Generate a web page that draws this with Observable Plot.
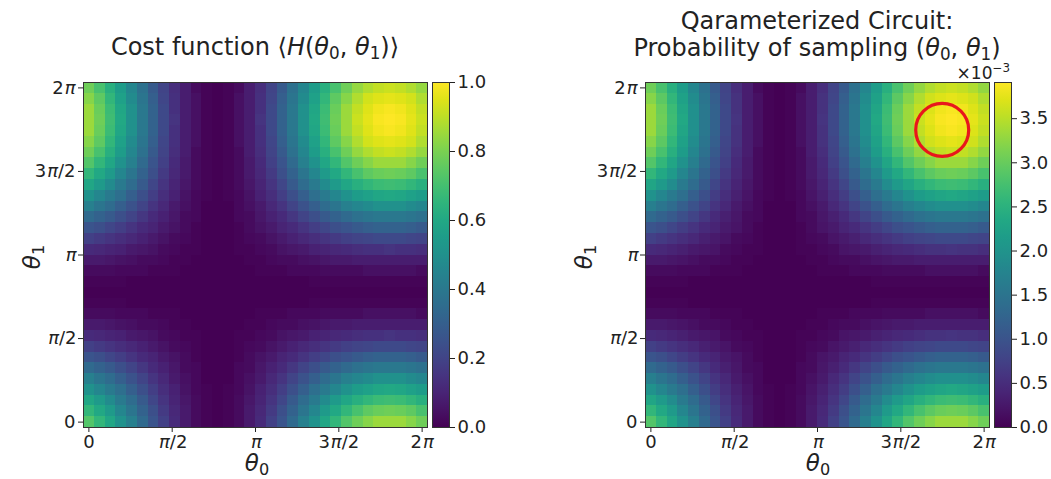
<!DOCTYPE html>
<html><head><meta charset="utf-8">
<script src="https://cdn.jsdelivr.net/npm/d3@7"></script>
<script src="https://cdn.jsdelivr.net/npm/@observablehq/plot@0.6"></script>
<style>
html,body{margin:0;padding:0;background:#fff;}
#fig{position:relative;width:1051px;height:479px;overflow:hidden;font-family:"DejaVu Sans",sans-serif;color:#222;}
.t{position:absolute;white-space:nowrap;font-size:24px;line-height:28px;text-align:center;transform:translateX(-50%);}
.lab{position:absolute;white-space:nowrap;font-size:23px;line-height:23px;}
sub{font-size:70%;vertical-align:baseline;position:relative;top:0.22em;line-height:0;}
sup{font-size:70%;vertical-align:baseline;position:relative;top:-0.55em;line-height:0;}
i{font-style:italic;}
</style></head>
<body><div id="fig"></div>
<script>
// Tick labels (shared by both axes of both heatmaps)
const tickLabels = ["0", "π/2", "π", "3π/2", "2π"];

// Cost function <H(θ0,θ1)>, in percent. Row j = θ1 index (0 = bottom), column i = θ0 index.
const costRows = [
[73,66,59,51,43,34,26,19,12,7,3,1,0,1,3,7,12,19,26,34,43,51,59,66,73,78,82,85,85,85,82,78],
[66,60,54,46,39,31,24,17,11,7,3,1,0,1,3,7,11,17,24,31,39,46,54,60,66,71,75,77,78,77,75,71],
[59,54,48,41,35,28,21,15,10,6,3,1,0,1,3,6,10,15,21,28,35,41,48,54,59,63,66,68,69,68,66,63],
[51,46,41,36,30,24,18,13,9,5,2,1,0,1,2,5,9,13,18,24,30,36,41,46,51,55,57,59,60,59,57,55],
[43,39,35,30,25,20,15,11,7,4,2,0,0,0,2,4,7,11,15,20,25,30,35,39,43,46,48,50,50,50,48,46],
[34,31,28,24,20,16,12,9,6,3,2,0,0,0,2,3,6,9,12,16,20,24,28,31,34,37,39,40,40,40,39,37],
[26,24,21,18,15,12,10,7,5,3,1,0,0,0,1,3,5,7,10,12,15,18,21,24,26,28,30,31,31,31,30,28],
[19,17,15,13,11,9,7,5,3,2,1,0,0,0,1,2,3,5,7,9,11,13,15,17,19,20,21,22,22,22,21,20],
[12,11,10,9,7,6,5,3,2,1,1,0,0,0,1,1,2,3,5,6,7,9,10,11,12,13,14,14,15,14,14,13],
[7,7,6,5,4,3,3,2,1,1,0,0,0,0,0,1,1,2,3,3,4,5,6,7,7,8,8,8,8,8,8,8],
[3,3,3,2,2,2,1,1,1,0,0,0,0,0,0,0,1,1,1,2,2,2,3,3,3,3,4,4,4,4,4,3],
[1,1,1,1,0,0,0,0,0,0,0,0,0,0,0,0,0,0,0,0,0,1,1,1,1,1,1,1,1,1,1,1],
[0,0,0,0,0,0,0,0,0,0,0,0,0,0,0,0,0,0,0,0,0,0,0,0,0,0,0,0,0,0,0,0],
[1,1,1,1,0,0,0,0,0,0,0,0,0,0,0,0,0,0,0,0,0,1,1,1,1,1,1,1,1,1,1,1],
[3,3,3,2,2,2,1,1,1,0,0,0,0,0,0,0,1,1,1,2,2,2,3,3,3,3,4,4,4,4,4,3],
[7,7,6,5,4,3,3,2,1,1,0,0,0,0,0,1,1,2,3,3,4,5,6,7,7,8,8,8,8,8,8,8],
[12,11,10,9,7,6,5,3,2,1,1,0,0,0,1,1,2,3,5,6,7,9,10,11,12,13,14,14,15,14,14,13],
[19,17,15,13,11,9,7,5,3,2,1,0,0,0,1,2,3,5,7,9,11,13,15,17,19,20,21,22,22,22,21,20],
[26,24,21,18,15,12,10,7,5,3,1,0,0,0,1,3,5,7,10,12,15,18,21,24,26,28,30,31,31,31,30,28],
[34,31,28,24,20,16,12,9,6,3,2,0,0,0,2,3,6,9,12,16,20,24,28,31,34,37,39,40,40,40,39,37],
[43,39,35,30,25,20,15,11,7,4,2,0,0,0,2,4,7,11,15,20,25,30,35,39,43,46,48,50,50,50,48,46],
[51,46,41,36,30,24,18,13,9,5,2,1,0,1,2,5,9,13,18,24,30,36,41,46,51,55,57,59,60,59,57,55],
[59,54,48,41,35,28,21,15,10,6,3,1,0,1,3,6,10,15,21,28,35,41,48,54,59,63,66,68,69,68,66,63],
[66,60,54,46,39,31,24,17,11,7,3,1,0,1,3,7,11,17,24,31,39,46,54,60,66,71,75,77,78,77,75,71],
[73,66,59,51,43,34,26,19,12,7,3,1,0,1,3,7,12,19,26,34,43,51,59,66,73,78,82,85,85,85,82,78],
[78,71,63,55,46,37,28,20,13,8,3,1,0,1,3,8,13,20,28,37,46,55,63,71,78,84,88,91,92,91,88,84],
[82,75,66,57,48,39,30,21,14,8,4,1,0,1,4,8,14,21,30,39,48,57,66,75,82,88,93,95,96,95,93,88],
[85,77,68,59,50,40,31,22,14,8,4,1,0,1,4,8,14,22,31,40,50,59,68,77,85,91,95,98,99,98,95,91],
[85,78,69,60,50,40,31,22,15,8,4,1,0,1,4,8,15,22,31,40,50,60,69,78,85,92,96,99,100,99,96,92],
[85,77,68,59,50,40,31,22,14,8,4,1,0,1,4,8,14,22,31,40,50,59,68,77,85,91,95,98,99,98,95,91],
[82,75,66,57,48,39,30,21,14,8,4,1,0,1,4,8,14,21,30,39,48,57,66,75,82,88,93,95,96,95,93,88],
[78,71,63,55,46,37,28,20,13,8,3,1,0,1,3,8,13,20,28,37,46,55,63,71,78,84,88,91,92,91,88,84]
];

// Probability of sampling (θ0,θ1), in units of 1e-5. Same layout.
const probRows = [
[285,258,230,199,168,133,102,74,47,27,12,4,0,4,12,27,47,74,102,133,168,199,230,258,285,305,320,332,332,332,320,305],
[258,234,211,180,152,121,94,66,43,27,12,4,0,4,12,27,43,66,94,121,152,180,211,234,258,277,293,301,305,301,293,277],
[230,211,188,160,137,109,82,59,39,23,12,4,0,4,12,23,39,59,82,109,137,160,188,211,230,246,258,266,270,266,258,246],
[199,180,160,141,117,94,70,51,35,20,8,4,0,4,8,20,35,51,70,94,117,141,160,180,199,215,223,230,234,230,223,215],
[168,152,137,117,98,78,59,43,27,16,8,0,0,0,8,16,27,43,59,78,98,117,137,152,168,180,188,195,195,195,188,180],
[133,121,109,94,78,62,47,35,23,12,8,0,0,0,8,12,23,35,47,62,78,94,109,121,133,145,152,156,156,156,152,145],
[102,94,82,70,59,47,39,27,20,12,4,0,0,0,4,12,20,27,39,47,59,70,82,94,102,109,117,121,121,121,117,109],
[74,66,59,51,43,35,27,20,12,8,4,0,0,0,4,8,12,20,27,35,43,51,59,66,74,78,82,86,86,86,82,78],
[47,43,39,35,27,23,20,12,8,4,4,0,0,0,4,4,8,12,20,23,27,35,39,43,47,51,55,55,59,55,55,51],
[27,27,23,20,16,12,12,8,4,4,0,0,0,0,0,4,4,8,12,12,16,20,23,27,27,31,31,31,31,31,31,31],
[12,12,12,8,8,8,4,4,4,0,0,0,0,0,0,0,4,4,4,8,8,8,12,12,12,12,16,16,16,16,16,12],
[4,4,4,4,0,0,0,0,0,0,0,0,0,0,0,0,0,0,0,0,0,4,4,4,4,4,4,4,4,4,4,4],
[0,0,0,0,0,0,0,0,0,0,0,0,0,0,0,0,0,0,0,0,0,0,0,0,0,0,0,0,0,0,0,0],
[4,4,4,4,0,0,0,0,0,0,0,0,0,0,0,0,0,0,0,0,0,4,4,4,4,4,4,4,4,4,4,4],
[12,12,12,8,8,8,4,4,4,0,0,0,0,0,0,0,4,4,4,8,8,8,12,12,12,12,16,16,16,16,16,12],
[27,27,23,20,16,12,12,8,4,4,0,0,0,0,0,4,4,8,12,12,16,20,23,27,27,31,31,31,31,31,31,31],
[47,43,39,35,27,23,20,12,8,4,4,0,0,0,4,4,8,12,20,23,27,35,39,43,47,51,55,55,59,55,55,51],
[74,66,59,51,43,35,27,20,12,8,4,0,0,0,4,8,12,20,27,35,43,51,59,66,74,78,82,86,86,86,82,78],
[102,94,82,70,59,47,39,27,20,12,4,0,0,0,4,12,20,27,39,47,59,70,82,94,102,109,117,121,121,121,117,109],
[133,121,109,94,78,62,47,35,23,12,8,0,0,0,8,12,23,35,47,62,78,94,109,121,133,145,152,156,156,156,152,145],
[168,152,137,117,98,78,59,43,27,16,8,0,0,0,8,16,27,43,59,78,98,117,137,152,168,180,188,195,195,195,188,180],
[199,180,160,141,117,94,70,51,35,20,8,4,0,4,8,20,35,51,70,94,117,141,160,180,199,215,223,230,234,230,223,215],
[230,211,188,160,137,109,82,59,39,23,12,4,0,4,12,23,39,59,82,109,137,160,188,211,230,246,258,266,270,266,258,246],
[258,234,211,180,152,121,94,66,43,27,12,4,0,4,12,27,43,66,94,121,152,180,211,234,258,277,293,301,305,301,293,277],
[285,258,230,199,168,133,102,74,47,27,12,4,0,4,12,27,47,74,102,133,168,199,230,258,285,305,320,332,332,332,320,305],
[305,277,246,215,180,145,109,78,51,31,12,4,0,4,12,31,51,78,109,145,180,215,246,277,305,328,344,355,359,355,344,328],
[320,293,258,223,188,152,117,82,55,31,16,4,0,4,16,31,55,82,117,152,188,223,258,293,320,344,363,371,375,371,363,344],
[332,301,266,230,195,156,121,86,55,31,16,4,0,4,16,31,55,86,121,156,195,230,266,301,332,355,371,383,387,383,371,355],
[332,305,270,234,195,156,121,86,59,31,16,4,0,4,16,31,59,86,121,156,195,234,270,305,332,359,375,387,391,387,375,359],
[332,301,266,230,195,156,121,86,55,31,16,4,0,4,16,31,55,86,121,156,195,230,266,301,332,355,371,383,387,383,371,355],
[320,293,258,223,188,152,117,82,55,31,16,4,0,4,16,31,55,82,117,152,188,223,258,293,320,344,363,371,375,371,363,344],
[305,277,246,215,180,145,109,78,51,31,12,4,0,4,12,31,51,78,109,145,180,215,246,277,305,328,344,355,359,355,344,328]
];

// Marked optimum (red circle), in grid-index units
const optimum = [{theta0: 27.1, theta1: 27.1}];

// colour bar ticks
const costTicks = [0, 0.2, 0.4, 0.6, 0.8, 1.0];
const probTicks = [0, 0.5, 1.0, 1.5, 2.0, 2.5, 3.0, 3.5];

const N = costRows.length;
const tickPos = tickLabels.map((_, k) => k * (N - 1) / (tickLabels.length - 1));
const fmtTick = d => tickLabels[tickPos.indexOf(d)];

function toCells(rows, unit) {
  const out = [];
  rows.forEach((row, j) => row.forEach((v, i) => out.push({i, j, v: v * unit})));
  return out;
}
const costCells = toCells(costRows, 0.01);   // fraction
const probCells = toCells(probRows, 0.01);   // ×10^-3
const costMax = d3.max(costCells, d => d.v);
const probMax = d3.max(probCells, d => d.v);

const ns = "http://www.w3.org/2000/svg";
const baseStyle = {fontFamily: "DejaVu Sans", fontSize: "18px", color: "#222", background: "none", overflow: "visible"};

function italicPi(svg) {
  svg.querySelectorAll("text").forEach(t => {
    const s = t.textContent;
    if (!s.includes("π")) return;
    t.textContent = "";
    s.split(/(π)/).forEach(part => {
      if (!part) return;
      const ts = document.createElementNS(ns, "tspan");
      if (part === "π") { ts.setAttribute("font-style", "italic"); ts.setAttribute("dx", "1"); }
      ts.textContent = part;
      t.appendChild(ts);
    });
  });
}

function heatmap(cells, max, extra, marginLeft) {
  const svg = Plot.plot({
    width: marginLeft + 344 + 3, height: 417,
    marginLeft, marginRight: 3, marginTop: 20, marginBottom: 52,
    style: baseStyle,
    x: {domain: [-0.5, N - 0.5], ticks: tickPos, tickFormat: fmtTick, tickSize: 5, tickPadding: 3, label: null},
    y: {domain: [-0.5, N - 0.5], ticks: tickPos, tickFormat: fmtTick, tickSize: 5, tickPadding: 3, label: null},
    color: {type: "linear", scheme: "viridis", domain: [0, max]},
    marks: [
      Plot.rect(cells, {x1: d => d.i - 0.5, x2: d => d.i + 0.5, y1: d => d.j - 0.5, y2: d => d.j + 0.5, fill: "v", shapeRendering: "crispEdges"}),
      Plot.frame({stroke: "#333", strokeWidth: 1}),
      ...extra
    ]
  });
  italicPi(svg);
  return svg;
}

function colorbar(max, ticks, id) {
  const grad = () => {
    const defs = document.createElementNS(ns, "defs");
    const lg = document.createElementNS(ns, "linearGradient");
    lg.setAttribute("id", id);
    lg.setAttribute("x1", "0"); lg.setAttribute("y1", "1");
    lg.setAttribute("x2", "0"); lg.setAttribute("y2", "0");
    for (let k = 0; k <= 20; k++) {
      const st = document.createElementNS(ns, "stop");
      st.setAttribute("offset", k / 20);
      st.setAttribute("stop-color", d3.interpolateViridis(k / 20));
      lg.appendChild(st);
    }
    defs.appendChild(lg);
    return defs;
  };
  return Plot.plot({
    width: 100, height: 417, marginLeft: 32, marginRight: 51, marginTop: 20, marginBottom: 52,
    style: baseStyle,
    x: {domain: [0, 1], axis: null},
    y: {domain: [0, max], axis: "right", ticks, tickFormat: d3.format(".1f"), tickSize: 5, tickPadding: 3, label: null},
    marks: [
      grad,
      Plot.rect([max], {x1: 0, x2: 1, y1: 0, y2: d => d, fill: `url(#${id})`}),
      Plot.frame({stroke: "#333", strokeWidth: 1})
    ]
  });
}

const fig = document.getElementById("fig");
function place(el, left, top) {
  el.style.position = "absolute";
  el.style.left = left + "px";
  el.style.top = top + "px";
  fig.appendChild(el);
}

place(heatmap(costCells, costMax, [], 83), 0, 62);
place(colorbar(costMax, costTicks, "virL"), 400, 62);
place(heatmap(probCells, probMax, [
  Plot.dot(optimum, {x: "theta0", y: "theta1", r: 26.5, stroke: "#e8161c", strokeWidth: 3.2, fill: "none"})
], 85), 560, 62);
place(colorbar(probMax, probTicks, "virR"), 962, 62);

function html(cls, content, css) {
  const d = document.createElement("div");
  d.className = cls;
  d.innerHTML = content;
  Object.assign(d.style, css);
  fig.appendChild(d);
  return d;
}
const th = s => `<i>θ</i><sub>${s}</sub>`;
html("t", `Cost function ⟨<i>H</i>(${th(0)}, ${th(1)})⟩`, {left: "255px", top: "33px"});
html("t", `Qarameterized Circuit:<br>Probability of sampling (${th(0)}, ${th(1)})`, {left: "817px", top: "8px", lineHeight: "27px"});
html("lab", th(0), {left: "257px", top: "452px", transform: "translateX(-50%)"});
html("lab", th(0), {left: "818px", top: "452px", transform: "translateX(-50%)"});
html("lab", th(1), {left: "32px", top: "257px", transform: "translate(-50%,-50%) rotate(-90deg)"});
html("lab", th(1), {left: "584px", top: "257px", transform: "translate(-50%,-50%) rotate(-90deg)"});
html("lab", "×10<sup>−3</sup>", {left: "1010px", top: "65px", fontSize: "17px", lineHeight: "17px", transform: "translateX(-100%)"});
</script></body></html>
